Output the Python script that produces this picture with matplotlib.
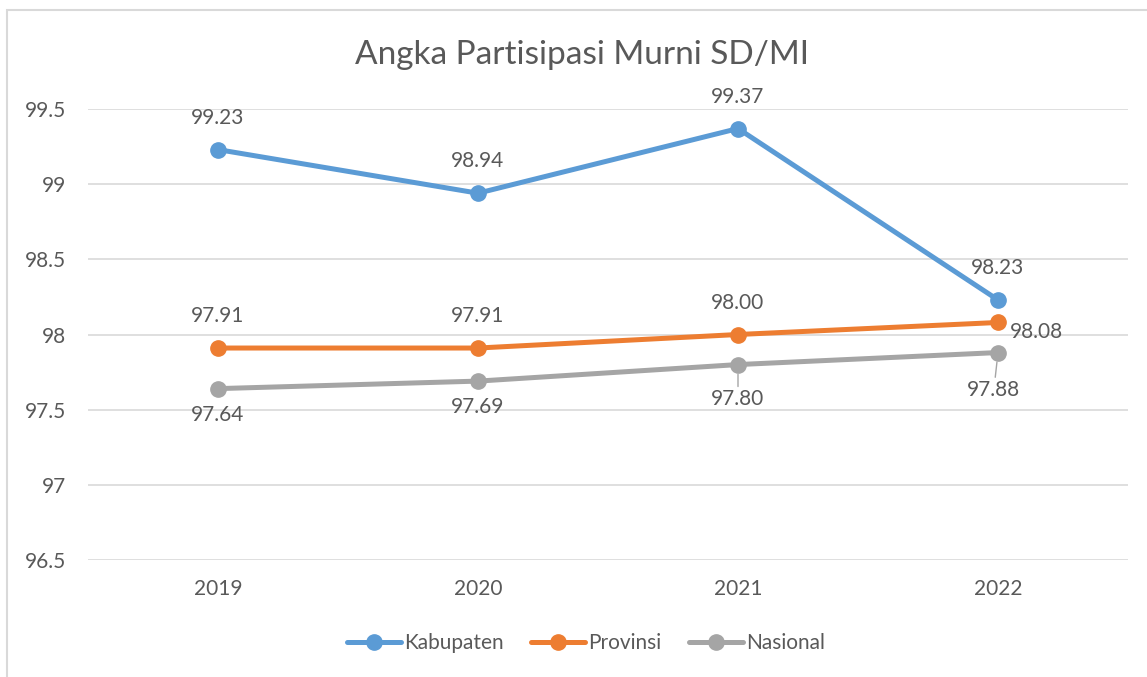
import matplotlib.pyplot as plt
from matplotlib.patches import Rectangle

plt.rcParams['font.family'] = ['Lato', 'DejaVu Sans']

years = ['2019', '2020', '2021', '2022']
kabupaten = [99.23, 98.94, 99.37, 98.23]
provinsi = [97.91, 97.91, 98.00, 98.08]
nasional = [97.64, 97.69, 97.80, 97.88]
yticks = [96.5, 97, 97.5, 98, 98.5, 99, 99.5]
ytick_labels = ['96.5', '97', '97.5', '98', '98.5', '99', '99.5']

text_col = '#595959'
blue, orange, gray = '#5B9BD5', '#ED7D31', '#A5A5A5'

fig = plt.figure(figsize=(11.47, 6.77), dpi=100)
fig.patches.append(Rectangle((7 / 1147, -0.05), 1.2, 1 - 10 / 677 + 0.05,
                             transform=fig.transFigure, fill=False,
                             edgecolor='#D9D9D9', lw=1.5))
ax = fig.add_axes([88 / 1147, 117 / 677, 1040 / 1147, 451 / 677])

x = range(len(years))
series = [('Kabupaten', kabupaten, blue), ('Provinsi', provinsi, orange),
          ('Nasional', nasional, gray)]
for name, vals, col in series:
    ax.plot(x, vals, color=col, lw=3.6, marker='o', ms=11, label=name,
            solid_capstyle='round', zorder=3)

fs = 15
# data labels (offsets in points)
for i, v in enumerate(kabupaten):
    ax.annotate(f'{v:.2f}', (i, v), xytext=(0, 23), textcoords='offset points',
                ha='center', va='center', fontsize=fs, color=text_col)
for i, v in enumerate(provinsi):
    off = (28, -7) if i == 3 else (0, 23)
    ax.annotate(f'{v:.2f}', (i, v), xytext=off, textcoords='offset points',
                ha='center', va='center', fontsize=fs, color=text_col)
for i, v in enumerate(nasional):
    off = (0, -19)
    ap = None
    if i == 2:
        off = (0, -25)
        ap = dict(arrowstyle='-', color=gray, lw=1, shrinkA=0, shrinkB=7)
    if i == 3:
        off = (-3, -27)
        ap = dict(arrowstyle='-', color=gray, lw=1, shrinkA=0, shrinkB=7)
    ax.annotate(f'{v:.2f}', (i, v), xytext=off, textcoords='offset points',
                ha='center', va='center', fontsize=fs, color=text_col,
                arrowprops=ap)

ax.set_xlim(-0.5, 3.5)
ax.set_ylim(96.5, 99.5)
ax.set_xticks(list(x))
ax.set_xticklabels(years)
ax.set_yticks(yticks)
ax.set_yticklabels(ytick_labels)
ax.tick_params(length=0, labelsize=fs, colors=text_col)
ax.tick_params(axis='y', pad=16)
ax.tick_params(axis='x', pad=14)
ax.grid(axis='y', color='#D9D9D9', lw=1.2)
ax.set_axisbelow(True)
for s in ax.spines.values():
    s.set_visible(False)

fig.text(582 / 1147, 1 - 55 / 677, 'Angka Partisipasi Murni SD/MI', ha='center',
         va='center', fontsize=24, color=text_col)

fig.legend(loc='center', bbox_to_anchor=(586 / 1147, 1 - 643 / 677), ncol=3,
           frameon=False, fontsize=fs, labelcolor=text_col, handlelength=2.6,
           handletextpad=0.15, columnspacing=1.3)

fig.savefig('out.png', dpi=100)
